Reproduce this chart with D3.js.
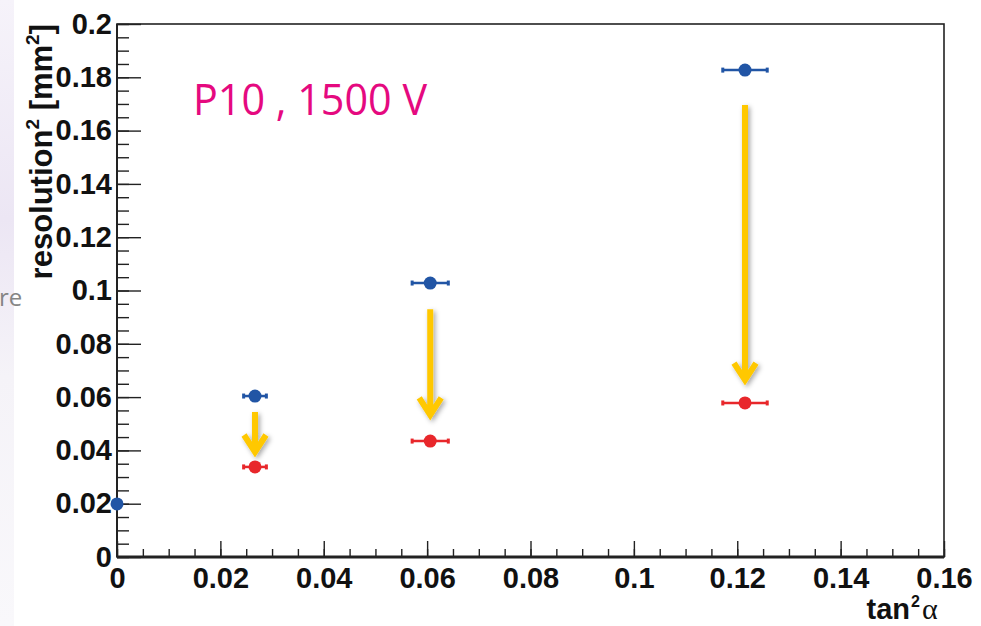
<!DOCTYPE html>
<html>
<head>
<meta charset="utf-8">
<script src="https://cdn.jsdelivr.net/npm/d3@7/dist/d3.min.js"></script>
<style>
  body { margin: 0; background: #fff; }
  svg { display: block; }
</style>
</head>
<body>
<div id="chartDiv"></div>
<script>
// values
const xTicks = [0, 0.02, 0.04, 0.06, 0.08, 0.1, 0.12, 0.14, 0.16];
const xTickLabels = ["0", "0.02", "0.04", "0.06", "0.08", "0.1", "0.12", "0.14", "0.16"];
const yTicks = [0, 0.02, 0.04, 0.06, 0.08, 0.1, 0.12, 0.14, 0.16, 0.18, 0.2];
const yTickLabels = ["0", "0.02", "0.04", "0.06", "0.08", "0.1", "0.12", "0.14", "0.16", "0.18", "0.2"];

// before (blue)
const blueX = [0, 0.0267, 0.0606, 0.1215];
const blueY = [0.0199, 0.0604, 0.1028, 0.1827];
const blueXErr = [0, 0.0022, 0.0035, 0.0043];

// after (red)
const redX = [0.0267, 0.0606, 0.1215];
const redY = [0.0338, 0.0435, 0.0578];
const redXErr = [0.0022, 0.0035, 0.0043];

// yellow arrows
const arrowX = [0.0267, 0.0606, 0.1215];
const arrowTop = [0.0544, 0.0930, 0.1696];
const arrowTip = [0.0394, 0.0533, 0.0664];

const W = 981, H = 626;
const margin = { top: 24, right: 37, bottom: 69, left: 117 },
    width = W - margin.left - margin.right,
    height = H - margin.top - margin.bottom;

const svg = d3.select("#chartDiv")
    .append("svg")
    .attr("width", W)
    .attr("height", H);

// faded slide background on the left edge
const defs = svg.append("defs");
const grad = defs.append("linearGradient")
    .attr("id", "leftFade")
    .attr("x1", 0).attr("y1", 0).attr("x2", 0).attr("y2", 1);
grad.append("stop").attr("offset", "0%").attr("stop-color", "#f6f3fa");
grad.append("stop").attr("offset", "35%").attr("stop-color", "#ece6f4");
grad.append("stop").attr("offset", "60%").attr("stop-color", "#f5f3f8");
grad.append("stop").attr("offset", "100%").attr("stop-color", "#f9f8fb");
svg.append("rect")
    .attr("x", 0).attr("y", 0).attr("width", 14).attr("height", H)
    .attr("fill", "url(#leftFade)");
svg.append("text")
    .attr("x", -1).attr("y", 306)
    .attr("font-family", "Open Sans")
    .attr("font-size", 24)
    .attr("fill", "#858585")
    .text("re");

const shadow = defs.append("filter")
    .attr("id", "shadow")
    .attr("x", "-50%").attr("y", "-20%").attr("width", "200%").attr("height", "140%");
shadow.append("feDropShadow")
    .attr("dx", 2).attr("dy", 2).attr("stdDeviation", 2.5)
    .attr("flood-color", "#000").attr("flood-opacity", 0.35);

const g = svg.append("g")
    .attr("transform", "translate(" + margin.left + "," + margin.top + ")");

const x = d3.scaleLinear().domain([0, 0.16]).range([0, width]);
const y = d3.scaleLinear().domain([0, 0.2]).range([height, 0]);

const axisColor = "#222";
const labelFont = "Liberation Sans, Arial, sans-serif";

// frame
g.append("rect")
    .attr("x", 0).attr("y", 0)
    .attr("width", width).attr("height", height)
    .attr("fill", "none")
    .attr("stroke", axisColor)
    .attr("stroke-width", 1.6);

// minor ticks
const xMinor = d3.range(0, 33).map(i => i * 0.005);
const yMinor = d3.range(0, 41).map(i => i * 0.005);

g.append("g")
    .attr("transform", "translate(0," + height + ")")
    .call(d3.axisBottom(x).tickValues(xMinor).tickSize(-8).tickFormat(""))
    .call(a => a.select(".domain").remove())
    .call(a => a.selectAll("line").attr("stroke", axisColor).attr("stroke-width", 1.4));

g.append("g")
    .call(d3.axisLeft(y).tickValues(yMinor).tickSize(-12).tickFormat(""))
    .call(a => a.select(".domain").remove())
    .call(a => a.selectAll("line").attr("stroke", axisColor).attr("stroke-width", 1.4));

// major ticks + labels
g.append("g")
    .attr("transform", "translate(0," + height + ")")
    .call(d3.axisBottom(x).tickValues(xTicks).tickSize(-16).tickPadding(10)
        .tickFormat((d, i) => xTickLabels[i]))
    .call(a => a.select(".domain").remove())
    .call(a => a.selectAll("line").attr("stroke", axisColor).attr("stroke-width", 1.4))
    .call(a => a.selectAll("text")
        .attr("font-family", labelFont)
        .attr("font-weight", "bold")
        .attr("font-size", 29)
        .attr("fill", "#111"));

g.append("g")
    .call(d3.axisLeft(y).tickValues(yTicks).tickSize(-24).tickPadding(5)
        .tickFormat((d, i) => yTickLabels[i]))
    .call(a => a.select(".domain").remove())
    .call(a => a.selectAll("line").attr("stroke", axisColor).attr("stroke-width", 1.4))
    .call(a => a.selectAll("text")
        .attr("font-family", labelFont)
        .attr("font-weight", "bold")
        .attr("font-size", 29)
        .attr("fill", "#111"));

// heavier axis lines
g.append("line")
    .attr("x1", 0).attr("x2", width).attr("y1", height).attr("y2", height)
    .attr("stroke", axisColor).attr("stroke-width", 3);
g.append("line")
    .attr("x1", 0).attr("x2", 0).attr("y1", 0).attr("y2", height)
    .attr("stroke", axisColor).attr("stroke-width", 2);

// x axis title: tan^2 alpha, pieces placed side by side
const xt = svg.append("g").attr("fill", "#111");
xt.append("text")
    .attr("x", 910).attr("y", 619)
    .attr("text-anchor", "end")
    .attr("font-family", labelFont).attr("font-weight", "bold").attr("font-size", 29)
    .text("tan");
xt.append("text")
    .attr("x", 911).attr("y", 607)
    .attr("font-family", labelFont).attr("font-weight", "bold").attr("font-size", 16)
    .text("2");
xt.append("text")
    .attr("x", 922).attr("y", 619)
    .attr("font-family", "Liberation Serif, Times New Roman, serif").attr("font-size", 30)
    .text("α");

// y axis title
svg.append("text")
    .attr("transform", "translate(52,24) rotate(-90)")
    .attr("text-anchor", "end")
    .attr("font-family", labelFont)
    .attr("font-weight", "bold")
    .attr("font-size", 31)
    .attr("fill", "#111")
    .call(t => {
        t.append("tspan").text("resolution");
        t.append("tspan").attr("font-size", 19).attr("dy", -13).text("2");
        t.append("tspan").attr("dy", 13).text(" [mm");
        t.append("tspan").attr("font-size", 19).attr("dy", -13).text("2");
        t.append("tspan").attr("dy", 13).text("]");
    });

// annotation text
g.append("text")
    .attr("x", 193 - margin.left).attr("y", 115 - margin.top)
    .attr("font-family", "Open Sans, Noto Sans, sans-serif")
    .attr("font-size", 44)
    .attr("textLength", 234)
    .attr("lengthAdjust", "spacingAndGlyphs")
    .attr("fill", "#e5097f")
    .text("P10 , 1500 V");

// arrows
const arrowColor = "#ffc800";
const arrows = d3.range(arrowX.length).map(i => ({ x: arrowX[i], y0: arrowTop[i], y1: arrowTip[i] }));
const ag = g.append("g").attr("filter", "url(#shadow)");
ag.selectAll("path.arrow")
    .data(arrows)
    .enter()
    .append("path")
    .attr("class", "arrow")
    .attr("d", d => {
        const px = x(d.x), top = y(d.y0), tip = y(d.y1);
        return "M" + px + "," + top + "L" + px + "," + (tip - 2) +
            "M" + (px - 11) + "," + (tip - 17) + "L" + px + "," + tip + "L" + (px + 11) + "," + (tip - 17);
    })
    .attr("fill", "none")
    .attr("stroke", arrowColor)
    .attr("stroke-width", 6)
    .attr("stroke-linejoin", "miter");

// error bars and markers
function drawSeries(xs, ys, errs, color) {
    const pts = xs.map((v, i) => ({ x: v, y: ys[i], e: errs[i] }));
    const s = g.append("g");
    s.selectAll("line.err")
        .data(pts.filter(d => d.e > 0))
        .enter()
        .append("line")
        .attr("x1", d => x(d.x - d.e))
        .attr("x2", d => x(d.x + d.e))
        .attr("y1", d => y(d.y))
        .attr("y2", d => y(d.y))
        .attr("stroke", color)
        .attr("stroke-width", 2.5);
    s.selectAll("rect.cap")
        .data(pts.filter(d => d.e > 0).flatMap(d => [d.x - d.e, d.x + d.e].map(v => ({ x: v, y: d.y }))))
        .enter()
        .append("rect")
        .attr("x", d => x(d.x) - 1.5)
        .attr("y", d => y(d.y) - 2.5)
        .attr("width", 3)
        .attr("height", 5)
        .attr("fill", color);
    s.selectAll("circle")
        .data(pts)
        .enter()
        .append("circle")
        .attr("cx", d => x(d.x))
        .attr("cy", d => y(d.y))
        .attr("r", 6.5)
        .attr("fill", color);
}

drawSeries(redX, redY, redXErr, "#e8272b");
drawSeries(blueX, blueY, blueXErr, "#2155a5");
</script>
</body>
</html>
